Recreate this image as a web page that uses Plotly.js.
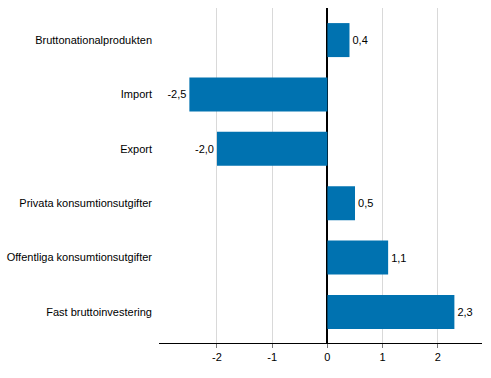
<!DOCTYPE html>
<html>
<head>
<meta charset="utf-8">
<script src="https://cdn.plot.ly/plotly-3.0.1.min.js"></script>
<style>html,body{margin:0;padding:0;background:#fff;}#chart{width:491px;height:378px;}</style>
</head>
<body>
<div id="chart"></div>
<script>
var categories = ["Bruttonationalprodukten", "Import", "Export", "Privata konsumtionsutgifter", "Offentliga konsumtionsutgifter", "Fast bruttoinvestering"];
var values = [0.4, -2.5, -2.0, 0.5, 1.1, 2.3];
var tickValues = [-2, -1, 0, 1, 2];
var tickLabels = ["-2", "-1", "0", "1", "2"];

var labels = values.map(function (v) { return v.toFixed(1).replace('.', ','); });

var trace = {
  type: 'bar',
  orientation: 'h',
  y: categories,
  x: values,
  width: 0.625,
  marker: { color: '#0072b0', line: { width: 0 } },
  text: labels,
  textposition: 'outside',
  cliponaxis: false,
  textfont: { family: 'Liberation Sans, Arial, sans-serif', size: 11, color: '#000' },
  hoverinfo: 'none'
};

var layout = {
  width: 491,
  height: 378,
  margin: { l: 159, r: 9, t: 8, b: 35 },
  paper_bgcolor: '#fff',
  plot_bgcolor: '#fff',
  showlegend: false,
  font: { family: 'Liberation Sans, Arial, sans-serif', size: 11, color: '#000' },
  xaxis: {
    range: [-3.05, 2.8],
    tickvals: tickValues,
    ticktext: tickLabels,
    showgrid: true,
    gridcolor: '#d9d9d9',
    gridwidth: 1,
    zeroline: true,
    zerolinecolor: '#000',
    zerolinewidth: 2,
    showline: true,
    linecolor: '#000',
    linewidth: 1,
    ticks: 'outside',
    ticklen: 4,
    tickcolor: '#777',
    tickfont: { size: 11, color: '#000' },
    fixedrange: true
  },
  yaxis: {
    type: 'category',
    range: [5.57, -0.59],
    showgrid: false,
    zeroline: false,
    showline: false,
    ticks: '',
    ticklabelstandoff: 6,
    tickfont: { size: 11, color: '#000' },
    fixedrange: true
  }
};

Plotly.newPlot('chart', [trace], layout, { displayModeBar: false, staticPlot: true });
</script>
</body>
</html>
